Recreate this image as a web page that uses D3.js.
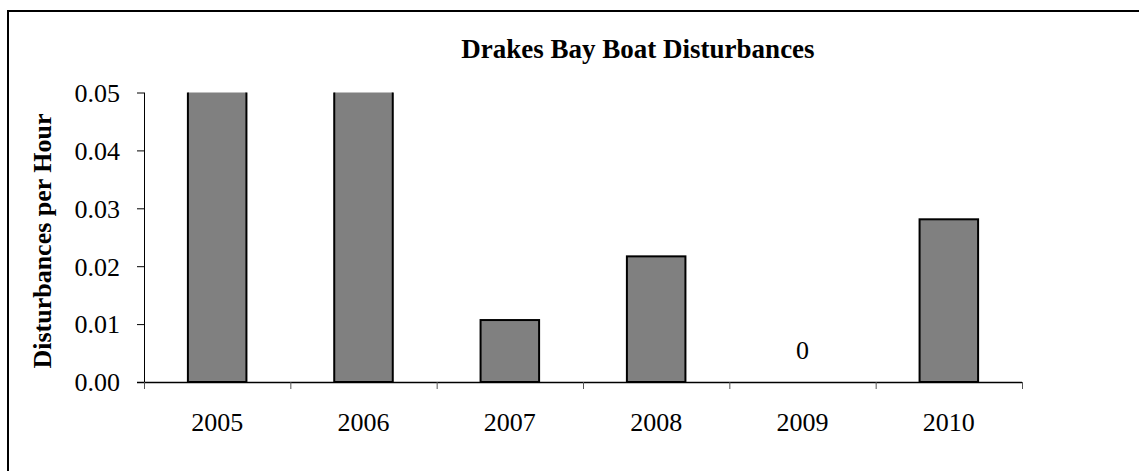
<!DOCTYPE html>
<html>
<head>
<meta charset="utf-8">
<script src="https://cdn.jsdelivr.net/npm/d3@7"></script>
<style>
  html, body { margin: 0; padding: 0; background: #fff; }
  svg { display: block; font-family: "Times New Roman", "Liberation Serif", serif; }
</style>
</head>
<body>
<svg id="chart" width="1139" height="471"></svg>
<script>
// Disturbances per hour by survey year
const years = ["2005", "2006", "2007", "2008", "2009", "2010"];
const rates = [0.08, 0.07, 0.0107, 0.0217, 0, 0.0281];
const yTicks = [0, 0.01, 0.02, 0.03, 0.04, 0.05];
const titleText = "Drakes Bay Boat Disturbances";
const yTitle = "Disturbances per Hour";

const svg = d3.select("#chart");
const W = 1139, H = 471;
const plot = { left: 144, right: 1022, top: 92.5, bottom: 382 };

// outer chart frame (extends past the right and bottom edges)
svg.append("rect")
  .attr("x", 8).attr("y", 11)
  .attr("width", W + 20).attr("height", H + 20)
  .attr("fill", "none").attr("stroke", "#000").attr("stroke-width", 2);

const x = d3.scaleBand()
  .domain(years)
  .range([plot.left, plot.right])
  .paddingInner(0.6)
  .paddingOuter(0.3);

const y = d3.scaleLinear()
  .domain([0, 0.05])
  .range([plot.bottom, plot.top]);

svg.append("defs").append("clipPath").attr("id", "plotClip")
  .append("rect")
  .attr("x", plot.left).attr("y", plot.top)
  .attr("width", plot.right - plot.left).attr("height", plot.bottom - plot.top);

// bars
const data = years.map((yr, i) => ({ year: yr, value: rates[i] }));
svg.append("g").attr("clip-path", "url(#plotClip)")
  .selectAll("rect")
  .data(data.filter(d => d.value > 0))
  .join("rect")
  .attr("x", d => x(d.year))
  .attr("y", d => y(d.value))
  .attr("width", x.bandwidth())
  .attr("height", d => y(0) - y(d.value))
  .attr("fill", "#808080")
  .attr("stroke", "#000")
  .attr("stroke-width", 2);

// zero-value label
svg.append("g").selectAll("text")
  .data(data.filter(d => d.value === 0))
  .join("text")
  .attr("x", d => x(d.year) + x.bandwidth() / 2)
  .attr("y", d => y(d.value) - 23)
  .attr("text-anchor", "middle")
  .attr("font-size", 26)
  .attr("fill", "#000")
  .text(d => d.value);

// y axis
const yAxis = d3.axisLeft(y)
  .tickValues(yTicks)
  .tickFormat(d3.format(".2f"))
  .tickSize(7)
  .tickPadding(17);
const gy = svg.append("g").attr("transform", `translate(${plot.left},0)`).call(yAxis);
gy.select(".domain").attr("d", `M0.5,${plot.top}V${plot.bottom}`).attr("stroke", "#000");
gy.selectAll(".tick line").attr("stroke", "#000");
gy.selectAll(".tick text")
  .attr("font-family", "'Times New Roman', 'Liberation Serif', serif")
  .attr("font-size", 26).attr("fill", "#000").attr("dy", "0.34em");

// x axis: ticks at category boundaries
const step = x.step();
const bounds = d3.range(years.length + 1).map(i => plot.left + i * step);
const gx = svg.append("g");
gx.append("line")
  .attr("x1", plot.left - 7).attr("x2", plot.right)
  .attr("y1", plot.bottom + 0.5).attr("y2", plot.bottom + 0.5)
  .attr("stroke", "#000").attr("stroke-width", 1.5);
gx.selectAll("line.tk")
  .data(bounds)
  .join("line").attr("class", "tk")
  .attr("x1", d => d + 0.5).attr("x2", d => d + 0.5)
  .attr("y1", plot.bottom).attr("y2", plot.bottom + 7)
  .attr("stroke", "#555");
gx.selectAll("text")
  .data(years)
  .join("text")
  .attr("x", d => x(d) + x.bandwidth() / 2)
  .attr("y", 431)
  .attr("text-anchor", "middle")
  .attr("font-size", 26)
  .attr("fill", "#000")
  .text(d => d);

// title
svg.append("text")
  .attr("x", 638).attr("y", 58)
  .attr("text-anchor", "middle")
  .attr("font-size", 27).attr("font-weight", "bold")
  .text(titleText);

// y axis title
svg.append("text")
  .attr("transform", `translate(51,241) rotate(-90)`)
  .attr("text-anchor", "middle")
  .attr("font-size", 26).attr("font-weight", "bold")
  .text(yTitle);
</script>
</body>
</html>
